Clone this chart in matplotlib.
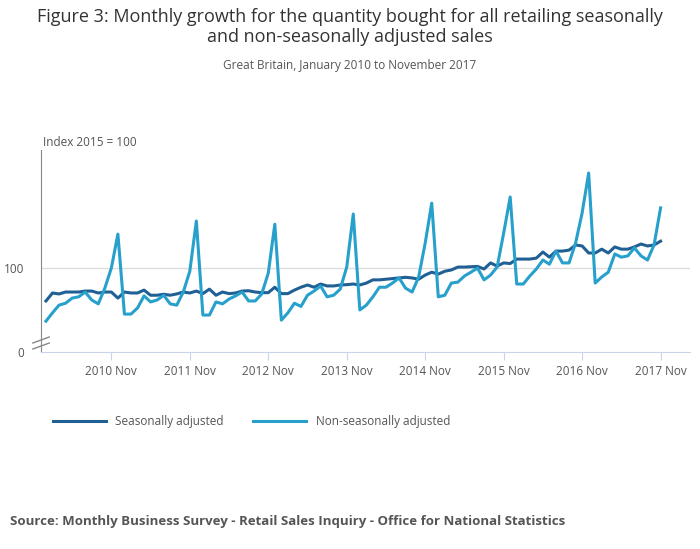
import matplotlib
matplotlib.use("Agg")
from matplotlib import pyplot as plt

plt.rcParams['font.family'] = ['Open Sans', 'DejaVu Sans']

# Jan 2010 .. Nov 2017, index 2015 = 100
sa = [89.7, 92.2, 91.9, 92.5, 92.5, 92.5, 92.8, 92.8, 92.2, 92.5, 92.5, 90.6,
      92.5, 92.2, 92.2, 93.1, 91.5, 91.5, 91.8, 91.5, 91.9, 92.5, 92.2, 92.8,
      92.0, 93.4, 91.5, 92.5, 92.0, 92.2, 92.8, 92.9, 92.5, 92.3, 92.3, 94.0,
      92.0, 92.0, 93.1, 94.0, 94.7, 94.0, 95.0, 94.4, 94.4, 94.7, 94.8, 95.0,
      94.7, 95.3, 96.3, 96.3, 96.5, 96.7, 96.9, 97.1, 96.9, 96.5, 97.8, 98.7,
      98.1, 99.0, 99.4, 100.3, 100.3, 100.4, 100.5, 99.7, 101.6, 100.6, 101.6, 101.4,
      102.8, 102.8, 102.8, 103.1, 105.0, 103.4, 105.3, 105.3, 105.6, 107.2, 106.9, 104.7,
      104.7, 105.9, 104.7, 106.6, 105.9, 105.9, 106.6, 107.5, 106.9, 107.2, 108.4]
nsa = [83.4, 86.0, 88.4, 89.0, 90.6, 91.0, 92.5, 90.0, 88.8, 93.7, 100.0, 110.6,
       85.6, 85.6, 87.5, 91.3, 89.4, 90.0, 91.5, 88.8, 88.4, 92.5, 99.0, 114.7,
       85.3, 85.3, 89.4, 88.8, 90.3, 91.3, 92.5, 89.7, 89.7, 91.9, 98.4, 113.7,
       83.7, 86.0, 89.0, 88.0, 91.5, 92.8, 94.4, 91.0, 91.5, 93.4, 100.3, 116.9,
       86.9, 88.4, 91.0, 94.0, 94.0, 95.3, 96.9, 93.7, 92.5, 97.2, 107.8, 120.3,
       91.0, 91.5, 95.3, 95.6, 97.5, 98.7, 100.0, 96.3, 97.8, 100.3, 110.9, 122.2,
       95.0, 95.0, 97.5, 99.7, 102.5, 101.2, 105.3, 101.6, 101.6, 107.8, 117.2, 129.7,
       95.3, 97.2, 98.7, 104.4, 103.4, 103.8, 106.3, 103.8, 102.5, 107.2, 118.8]
tick_idx = [10, 22, 34, 46, 58, 70, 82, 94]
tick_labels = ["2010 Nov", "2011 Nov", "2012 Nov", "2013 Nov",
               "2014 Nov", "2015 Nov", "2016 Nov", "2017 Nov"]

ymin, ymax = 73.75, 136.9
fig = plt.figure(figsize=(7, 5.49), dpi=100)
ax = fig.add_axes([41/700, (549-352)/549, 649/700, 202/549])
x = list(range(len(sa)))
ax.axhline(100, color='#dddddd', lw=1, zorder=0)
ax.plot(x, sa, color='#206095', lw=2.2, label='Seasonally adjusted')
ax.plot(x, nsa, color='#27a0cc', lw=2.2, label='Non-seasonally adjusted')
ax.set_xlim(-0.76, 98.5)
ax.set_ylim(ymin, ymax)
ax.set_yticks([ymin, 100], ["0", "100"])
ax.set_xticks(tick_idx, tick_labels)
for s in ['top', 'right']:
    ax.spines[s].set_visible(False)
ax.spines['left'].set_color('#888888')
ax.spines['bottom'].set_color('#c8d4e8')
ax.tick_params(axis='y', length=0, labelsize=8.5, colors='#555555', pad=12)
ax.tick_params(axis='x', length=6, color='#c8d4e8', labelsize=8.5, colors='#555555')
# axis break marks
for yy in (340, 346):
    ax.plot([-2.0, 0.5], [100 - (yy + 3 - 268) / 3.2, 100 - (yy - 3 - 268) / 3.2],
            color='#888888', lw=1, clip_on=False)
ax.text(0.003, 1.02, "Index 2015 = 100", transform=ax.transAxes, fontsize=8.5, color='#555555')

fig.text(0.5, 0.985, "Figure 3: Monthly growth for the quantity bought for all retailing seasonally\nand non-seasonally adjusted sales",
         ha='center', va='top', fontsize=13, color='#333333', linespacing=1.1)
fig.text(0.5, 0.893, "Great Britain, January 2010 to November 2017", ha='center', va='top',
         fontsize=8.5, color='#555555')
fig.legend(loc='upper left', bbox_to_anchor=(0.06, 0.263), ncol=2, frameon=False,
           fontsize=8.5, handlelength=4.5, columnspacing=2.5, labelcolor='#555555')
fig.text(10/700, 1 - 522/549, "Source: Monthly Business Survey - Retail Sales Inquiry - Office for National Statistics",
         fontsize=9.5, fontweight='bold', color='#555555', va='center')
fig.savefig("out.png", dpi=100)
